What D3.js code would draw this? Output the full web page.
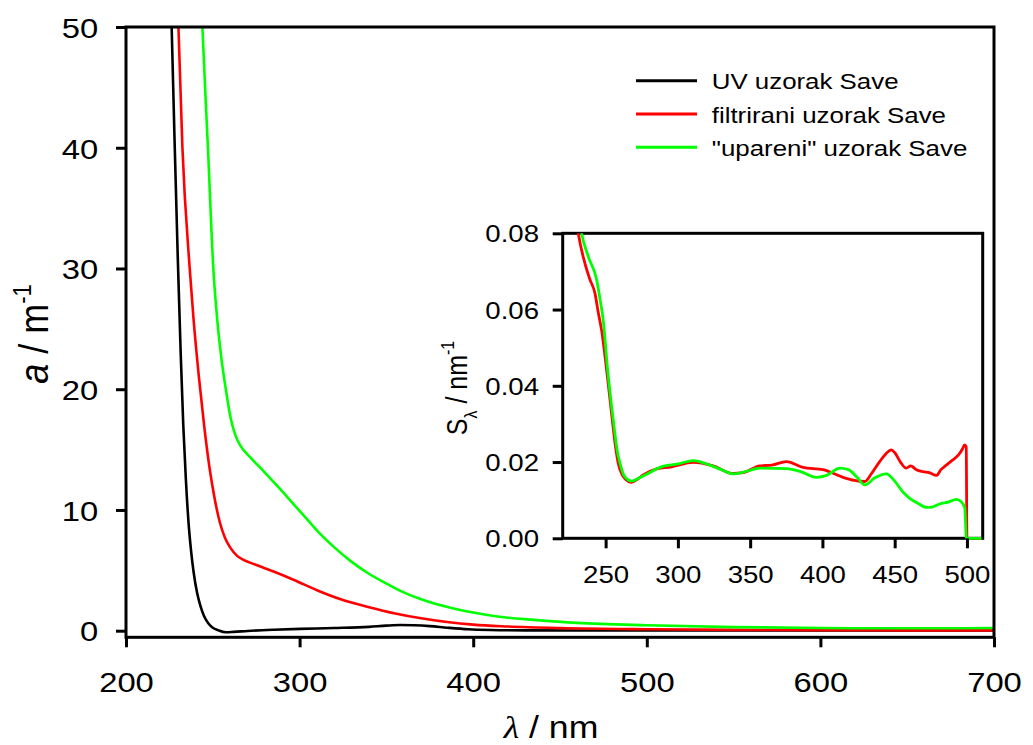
<!DOCTYPE html>
<html><head><meta charset="utf-8">
<script src="https://cdn.jsdelivr.net/npm/d3@7"></script>
<style>
body{margin:0;background:#fff}
svg{display:block}
text{font-family:"Liberation Sans",Arial,sans-serif;fill:#000}
</style>
</head><body>
<svg id="c" width="1033" height="745"></svg>
<script>
// ---------- data ----------
const xTicks=[200,300,400,500,600,700];
const yTicks=[0,10,20,30,40,50];
const insetXTicks=[250,300,350,400,450,500];
const insetYTicks=[0,0.02,0.04,0.06,0.08];
const seriesNames=["UV uzorak Save","filtrirani uzorak Save","\"upareni\" uzorak Save"];
const seriesColors=["#000000","#ff0000","#00ff00"];

const uvWl=[225,226.3,228,229.8,231.5,233,234.5,236,237.5,239,241,243,245,247.5,250,253,257.5,262,270,285,300,320,340,350,358,366,375,385,397,410,430,460,500,550,600,650,700];
const uvA=[57,50,40.5,31,23,17,12.5,9,6.6,4.8,3.1,2.0,1.2,0.6,0.25,0.05,-0.13,-0.1,-0.02,0.08,0.15,0.22,0.32,0.42,0.47,0.45,0.38,0.25,0.12,0.06,0.03,0.02,0.02,0.02,0.02,0.02,0.02];

const filtWl=[229,230.2,232.5,236.7,238.8,242,245,248,251,254,257,260,264,268,274,285,296.8,310,323.7,340,354.4,370,385,400,420,450,500,550,600,650,700];
const filtA=[56,50,40,30,26,21,17,13.6,11,9.0,7.7,6.9,6.2,5.85,5.5,4.9,4.2,3.35,2.6,1.95,1.45,1.03,0.72,0.5,0.35,0.22,0.12,0.07,0.04,0.03,0.03];

const upWl=[242.5,244,247.2,250.3,252.6,255,257.5,260.3,263,266,272,280,289,297,304.5,312,320,330,339,350,358,370,380,390,400,415,435,460,500,550,600,650,700];
const upA=[56,50,40,30,25.7,22.5,20,17.6,16.2,15.3,14.3,13.1,11.7,10.4,9.2,8.0,6.9,5.7,4.8,3.9,3.3,2.6,2.15,1.8,1.5,1.15,0.9,0.65,0.45,0.3,0.22,0.2,0.22];

// inset: spectral slope S_lambda
const insetFiltWl=[229,231.1,235.7,239,242.6,245,247.2,250.7,254.1,256.5,258.7,261,263.3,268,272,276,285.3,295,310.6,324.4,338.2,345,356.7,365,375.1,386.6,400.4,414.3,422,429.3,434,439.6,444,447.7,450,454,458,461,465,469.6,474,478.9,482,485.7,490,494,497,498.4,499.5,500,510];
const insetFiltS=[0.086,0.080,0.0721,0.068,0.0643,0.059,0.0546,0.0441,0.0328,0.025,0.0197,0.017,0.0157,0.0147,0.0155,0.0166,0.0182,0.0187,0.0199,0.019,0.017,0.0172,0.019,0.0192,0.0201,0.0186,0.018,0.016,0.0152,0.0149,0.017,0.0201,0.0222,0.0232,0.0225,0.02,0.0184,0.019,0.018,0.0175,0.0172,0.0165,0.018,0.0192,0.0205,0.0218,0.0235,0.0245,0.024,0,0];

const insetUpWl=[231,233.4,238,243.8,246,248.3,251.4,255.3,258,259.9,263,268,273,278.3,287.5,300,310.6,322,330,338.2,346,356.7,375.1,385,395.9,403,412,418,424,429.3,436,444.3,450,456,460.4,466,472,476,481.1,487,492.7,496,498.5,499.6,510];
const insetUpS=[0.086,0.080,0.0739,0.0678,0.063,0.0573,0.0441,0.031,0.023,0.0197,0.0163,0.015,0.0158,0.0168,0.0186,0.0195,0.0204,0.0192,0.018,0.0169,0.0174,0.0184,0.0183,0.0175,0.016,0.0165,0.0184,0.018,0.016,0.014,0.0158,0.0169,0.015,0.012,0.0105,0.0092,0.0081,0.0082,0.009,0.0095,0.0102,0.0096,0.008,0,0];

// ---------- drawing ----------
const svg=d3.select("#c");
const SX=1.15;      // horizontal stretch of the original typography
const AW=3;         // axis stroke width
const FONT='"Liberation Sans",Arial,sans-serif';

const x=d3.scaleLinear().domain([200,700]).range([126,994]);
const y=d3.scaleLinear().domain([0,50]).range([630.7,27]);
const xAxisY=637.3;

const defs=svg.append("defs");
defs.append("clipPath").attr("id","mainClip").append("rect")
  .attr("x",x(200)).attr("y",y(50)).attr("width",x(700)-x(200)).attr("height",xAxisY-y(50));

function styleTicks(g,fs,tx,ty,anchor){
  g.attr("font-size",null).attr("font-family",null);
  g.select(".domain").remove();
  g.selectAll(".tick line").attr("stroke","#000").attr("stroke-width",AW);
  g.selectAll(".tick text")
    .style("font-family",FONT).attr("font-size",fs).attr("fill","#000")
    .attr("x",tx/SX).attr("y",ty).attr("dy",null)
    .attr("text-anchor",anchor)
    .attr("transform",`scale(${SX},1)`);
}

// main curves
const mainG=svg.append("g").attr("clip-path","url(#mainClip)");
const mainSeries=[[uvWl,uvA],[filtWl,filtA],[upWl,upA]];
const lineMain=d3.line().x(d=>x(d[0])).y(d=>y(d[1])).curve(d3.curveMonotoneX);
mainSeries.forEach((s,i)=>{
  const pts=s[0].map((w,j)=>[w,s[1][j]]);
  mainG.append("path").datum(pts).attr("d",lineMain)
    .attr("fill","none").attr("stroke",seriesColors[i]).attr("stroke-width",2.6)
    .attr("stroke-linejoin","round");
});

// main frame
svg.append("rect").attr("x",x(200)).attr("y",y(50)).attr("width",x(700)-x(200)).attr("height",xAxisY-y(50))
  .attr("fill","none").attr("stroke","#000").attr("stroke-width",AW);

// main axes
const gx=svg.append("g").attr("transform",`translate(0,${xAxisY})`)
  .call(d3.axisBottom(x).tickValues(xTicks).tickSize(10).tickSizeOuter(0).tickFormat(d3.format("d")));
styleTicks(gx,28.5,0,54.7,"middle");

const gy=svg.append("g").attr("transform",`translate(${x(200)},0)`)
  .call(d3.axisLeft(y).tickValues(yTicks).tickSize(10).tickSizeOuter(0).tickFormat(d3.format("d")));
styleTicks(gy,28.5,-27.7,0,"end");
gy.selectAll(".tick text").attr("dy","0.36em");

// axis titles
const xt=svg.append("text").attr("transform",`translate(551,738) scale(${SX},1)`)
  .attr("text-anchor","middle").attr("font-size",31);
xt.append("tspan").text("λ").style("font-family",'"Liberation Serif","Times New Roman",serif').style("font-style","italic");
xt.append("tspan").text(" / nm");

const yt=svg.append("text").attr("transform",`translate(48,334) scale(${SX},1) rotate(-90)`)
  .attr("text-anchor","middle").attr("font-size",36);
yt.append("tspan").text("a").style("font-style","italic");
yt.append("tspan").text(" / m");
yt.append("tspan").text("-1").attr("font-size",22).attr("dy",-15);

// legend
const legX1=636,legX2=697,legTextX=711.7,legBase0=89.3,legStep=33.3;
seriesNames.forEach((n,i)=>{
  const b=legBase0+i*legStep;
  svg.append("line").attr("x1",legX1).attr("x2",legX2).attr("y1",b-8.6).attr("y2",b-8.6)
    .attr("stroke",seriesColors[i]).attr("stroke-width",3);
  svg.append("text").attr("transform",`translate(${legTextX},${b}) scale(${SX},1)`)
    .attr("font-size",22.5).text(n);
});

// ---------- inset ----------
const ix=d3.scaleLinear().domain([220.3,510.9]).range([562.7,982.7]);
const iy=d3.scaleLinear().domain([0,0.08]).range([538.3,233.3]);

defs.append("clipPath").attr("id","insetClip").append("rect")
  .attr("x",ix(220.3)).attr("y",iy(0.08)).attr("width",ix(510.9)-ix(220.3)).attr("height",iy(0)-iy(0.08)+6);

svg.append("rect").attr("x",ix(220.3)).attr("y",iy(0.08)).attr("width",ix(510.9)-ix(220.3)).attr("height",iy(0)-iy(0.08))
  .attr("fill","none").attr("stroke","#000").attr("stroke-width",AW);

const insetG=svg.append("g").attr("clip-path","url(#insetClip)");
const lineInset=d3.line().x(d=>ix(d[0])).y(d=>iy(d[1])).curve(d3.curveMonotoneX);
const insetSeries=[[insetFiltWl,insetFiltS,1],[insetUpWl,insetUpS,2]];
insetSeries.forEach(s=>{
  const pts=s[0].map((w,j)=>[w,s[1][j]]);
  insetG.append("path").datum(pts).attr("d",lineInset)
    .attr("fill","none").attr("stroke",seriesColors[s[2]]).attr("stroke-width",2.8)
    .attr("stroke-linejoin","round");
});

const igx=svg.append("g").attr("transform",`translate(0,${iy(0)})`)
  .call(d3.axisBottom(ix).tickValues(insetXTicks).tickSize(10).tickSizeOuter(0).tickFormat(d3.format("d")));
styleTicks(igx,24,0,44.7,"middle");

const igy=svg.append("g").attr("transform",`translate(${ix(220.3)},0)`)
  .call(d3.axisLeft(iy).tickValues(insetYTicks).tickSize(10).tickSizeOuter(0).tickFormat(d3.format(".2f")));
styleTicks(igy,24,-23.7,0,"end");
igy.selectAll(".tick text").attr("dy","0.36em");

const it=svg.append("text").attr("transform",`translate(467,388) scale(${SX},1) rotate(-90)`)
  .attr("text-anchor","middle").attr("font-size",25);
it.append("tspan").text("S");
it.append("tspan").text("λ").attr("font-size",16).attr("dy",9);
it.append("tspan").text(" / nm").attr("dy",-9);
it.append("tspan").text("-1").attr("font-size",16).attr("dy",-11);
</script>
</body></html>
